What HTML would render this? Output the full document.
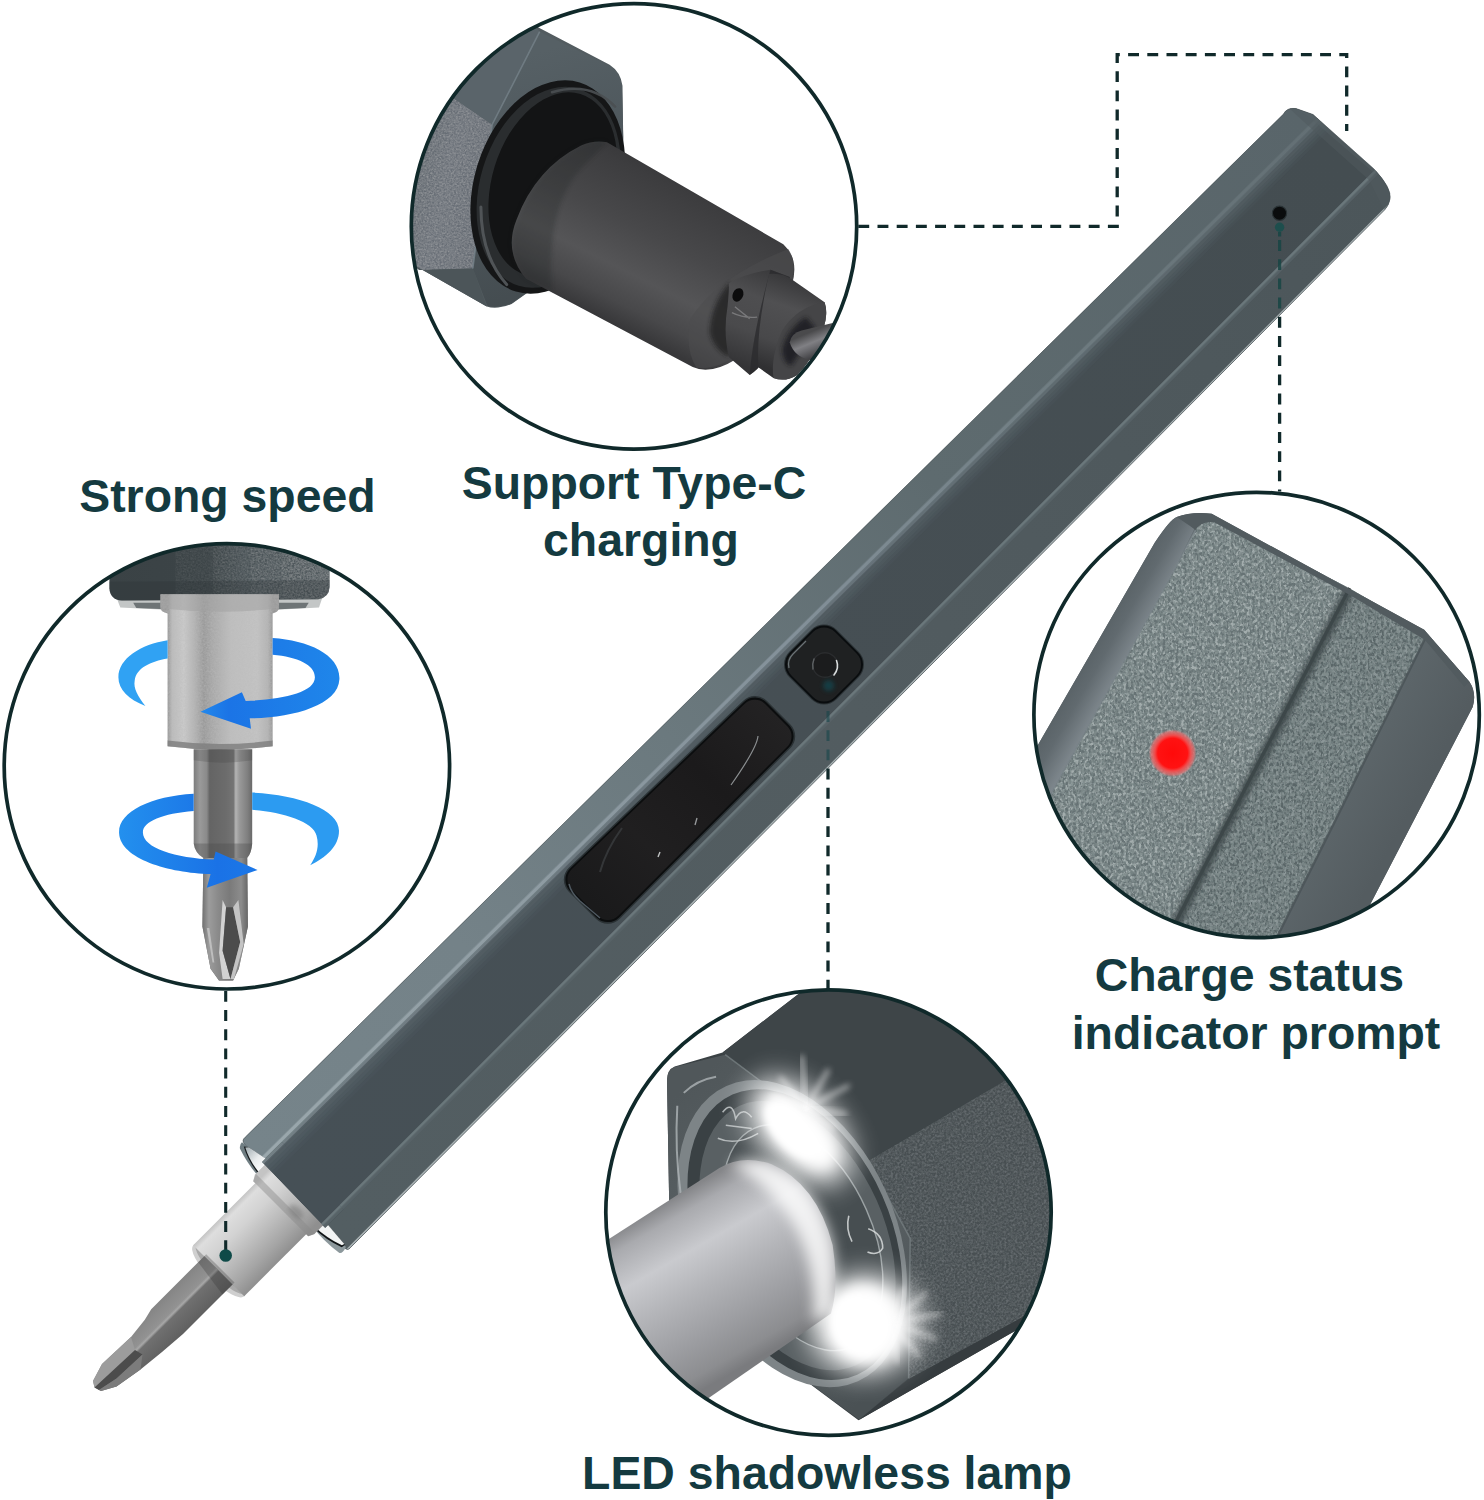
<!DOCTYPE html>
<html lang="en"><head><meta charset="utf-8"><title>Electric screwdriver features</title>
<style>
html,body{margin:0;padding:0;background:#fff;}
body{width:1484px;height:1500px;overflow:hidden;}
svg{display:block;}
text{font-family:"Liberation Sans",sans-serif;font-weight:700;fill:#143a40;}
</style></head><body>
<svg width="1484" height="1500" viewBox="0 0 1484 1500">
<defs>
<clipPath id="bodyclip"><path d="M1283.5,114 Q1286.5,107.5 1296,108.5 L1313,114.5 L1374,169 Q1392,188 1390,199 Q1389,205 1385,209.5 L350.5,1247.5 Q348,1251 344.5,1248 L245,1144.5 Q241,1140.5 245.2,1137.2 Z"/></clipPath>
<linearGradient id="gF1" gradientUnits="userSpaceOnUse" x1="1290" y1="110" x2="240" y2="1140">
<stop offset="0" stop-color="#59656a"/><stop offset="0.35" stop-color="#5e6b6f"/><stop offset="0.6" stop-color="#6b797e"/><stop offset="0.8" stop-color="#748288"/><stop offset="1" stop-color="#76848a"/></linearGradient>
<linearGradient id="gMid" gradientUnits="userSpaceOnUse" x1="1290" y1="110" x2="240" y2="1140">
<stop offset="0" stop-color="#444d51"/><stop offset="0.5" stop-color="#464f54"/><stop offset="1" stop-color="#465056"/></linearGradient>
<linearGradient id="gF3" gradientUnits="userSpaceOnUse" x1="1390" y1="200" x2="345" y2="1250">
<stop offset="0" stop-color="#4c565a"/><stop offset="0.5" stop-color="#525c60"/><stop offset="1" stop-color="#535e62"/></linearGradient>
<linearGradient id="gFall" gradientUnits="userSpaceOnUse" x1="700" y1="724" x2="715" y2="739">
<stop offset="0" stop-color="#5a666b" stop-opacity="0.95"/><stop offset="1" stop-color="#48525a" stop-opacity="0"/></linearGradient>
<linearGradient id="gR1" gradientUnits="userSpaceOnUse" x1="1334" y1="104" x2="243" y2="1178">
<stop offset="0" stop-color="#626e73"/><stop offset="0.25" stop-color="#6f7c81"/><stop offset="0.5" stop-color="#84919a"/><stop offset="1" stop-color="#9ba8ad"/></linearGradient>
<linearGradient id="gBtn" gradientUnits="userSpaceOnUse" x1="770" y1="710" x2="590" y2="900">
<stop offset="0" stop-color="#232223"/><stop offset="0.35" stop-color="#1b1a1b"/><stop offset="0.7" stop-color="#201f20"/><stop offset="1" stop-color="#1a1a1b"/></linearGradient>
<linearGradient id="gCres" gradientUnits="userSpaceOnUse" x1="246" y1="1151" x2="265" y2="1169">
<stop offset="0" stop-color="#aeb8bc"/><stop offset="0.5" stop-color="#e9eced"/><stop offset="1" stop-color="#ffffff"/></linearGradient>
<linearGradient id="gChuck" gradientUnits="userSpaceOnUse" x1="219.2" y1="1219.2" x2="270.2" y2="1270.2">
<stop offset="0" stop-color="#c4c4c4"/><stop offset="0.08" stop-color="#dedede"/><stop offset="0.3" stop-color="#d2d2d2"/>
<stop offset="0.55" stop-color="#bcbcbc"/><stop offset="0.8" stop-color="#a5a5a5"/><stop offset="1" stop-color="#8f8f8f"/></linearGradient>
<filter id="blurS" x="-50%" y="-50%" width="200%" height="200%"><feGaussianBlur stdDeviation="2.2"/></filter>
<clipPath id="endband"><polygon points="258.5,1165.5 282.0,1142.0 343.5,1209.5 320.5,1232.5"/></clipPath>
<linearGradient id="gBit" gradientUnits="userSpaceOnUse" x1="180.2" y1="1280.2" x2="208.5" y2="1308.5">
<stop offset="0" stop-color="#858585"/><stop offset="0.4" stop-color="#929292"/><stop offset="0.46" stop-color="#a8a8a8"/>
<stop offset="0.52" stop-color="#707070"/><stop offset="1" stop-color="#606060"/></linearGradient>
<clipPath id="clip1"><circle cx="634.5" cy="226.4" r="223.2"/></clipPath>
<filter id="grain" x="0" y="0" width="100%" height="100%">
<feTurbulence type="fractalNoise" baseFrequency="0.55" numOctaves="2" seed="4" result="n"/>
<feColorMatrix in="n" type="matrix" values="0 0 0 0 0.5  0 0 0 0 0.5  0 0 0 0 0.5  0.9 0.9 0.9 0 -0.95" result="m"/>
<feComposite in="m" in2="SourceGraphic" operator="in"/></filter>
<linearGradient id="g1side" gradientUnits="userSpaceOnUse" x1="410" y1="162" x2="494" y2="181">
<stop offset="0" stop-color="#5f666d"/><stop offset="0.45" stop-color="#6a7078"/><stop offset="1" stop-color="#646a72"/></linearGradient>
<linearGradient id="g1face" gradientUnits="userSpaceOnUse" x1="497" y1="65" x2="568" y2="291">
<stop offset="0" stop-color="#566065"/><stop offset="0.5" stop-color="#4d565b"/><stop offset="1" stop-color="#444c50"/></linearGradient>
<linearGradient id="g1plug" gradientUnits="userSpaceOnUse" x1="691" y1="168" x2="613" y2="323">
<stop offset="0" stop-color="#353537"/><stop offset="0.15" stop-color="#3d3d3f"/><stop offset="0.45" stop-color="#48484a"/>
<stop offset="0.7" stop-color="#555557"/><stop offset="0.88" stop-color="#48484a"/><stop offset="1" stop-color="#38383a"/></linearGradient>
<linearGradient id="g1neck" gradientUnits="userSpaceOnUse" x1="773" y1="271" x2="736" y2="363">
<stop offset="0" stop-color="#3a3a3c"/><stop offset="0.3" stop-color="#4e4e50"/><stop offset="0.65" stop-color="#4a4a4c"/><stop offset="1" stop-color="#343436"/></linearGradient>
<linearGradient id="g1neck2" gradientUnits="userSpaceOnUse" x1="803" y1="283" x2="773" y2="370">
<stop offset="0" stop-color="#39393b"/><stop offset="0.3" stop-color="#505052"/><stop offset="0.7" stop-color="#48484a"/><stop offset="1" stop-color="#303032"/></linearGradient>
<linearGradient id="g1pin" gradientUnits="userSpaceOnUse" x1="808" y1="333" x2="818" y2="357">
<stop offset="0" stop-color="#4a4a4c"/><stop offset="0.4" stop-color="#808084"/><stop offset="0.6" stop-color="#6a6a6e"/><stop offset="1" stop-color="#3a3a3d"/></linearGradient>
<clipPath id="clip2"><circle cx="226.9" cy="766.3" r="223.2"/></clipPath>
<linearGradient id="g2cap" gradientUnits="userSpaceOnUse" x1="108" y1="561" x2="329" y2="561">
<stop offset="0" stop-color="#3a4245"/><stop offset="0.45" stop-color="#3c4447"/><stop offset="0.62" stop-color="#4b5458"/><stop offset="1" stop-color="#535c60"/></linearGradient>
<linearGradient id="g2chuck" gradientUnits="userSpaceOnUse" x1="168" y1="655" x2="273" y2="655">
<stop offset="0" stop-color="#9a9a9a"/><stop offset="0.04" stop-color="#bcbcbc"/><stop offset="0.15" stop-color="#cbcbcb"/><stop offset="0.25" stop-color="#b4b4b4"/>
<stop offset="0.34" stop-color="#999999"/><stop offset="0.43" stop-color="#a9a9a9"/><stop offset="0.6" stop-color="#bfbfbf"/><stop offset="0.85" stop-color="#c4c4c4"/>
<stop offset="0.95" stop-color="#b4b4b4"/><stop offset="1" stop-color="#969696"/></linearGradient>
<linearGradient id="g2bit" gradientUnits="userSpaceOnUse" x1="194" y1="812" x2="252" y2="812">
<stop offset="0" stop-color="#7e7e7e"/><stop offset="0.1" stop-color="#9a9a9a"/><stop offset="0.22" stop-color="#8a8a8a"/><stop offset="0.27" stop-color="#646464"/><stop offset="0.55" stop-color="#6c6c6c"/>
<stop offset="0.68" stop-color="#747474"/><stop offset="0.72" stop-color="#b4b4b4"/><stop offset="0.78" stop-color="#9a9a9a"/><stop offset="0.92" stop-color="#808080"/><stop offset="1" stop-color="#6a6a6a"/></linearGradient>
<linearGradient id="g2head" gradientUnits="userSpaceOnUse" x1="202" y1="906" x2="248" y2="906">
<stop offset="0" stop-color="#6e6e6e"/><stop offset="0.15" stop-color="#9c9c9c"/><stop offset="0.35" stop-color="#8a8a8a"/><stop offset="0.6" stop-color="#7a7a7a"/><stop offset="0.85" stop-color="#8c8c8c"/><stop offset="1" stop-color="#666666"/></linearGradient>
<linearGradient id="g2a" gradientUnits="userSpaceOnUse" x1="338" y1="677" x2="119" y2="677">
<stop offset="0" stop-color="#1f86ea"/><stop offset="0.5" stop-color="#1b74e6"/><stop offset="0.75" stop-color="#2a9cf0"/><stop offset="1" stop-color="#2e9ff2"/></linearGradient>
<linearGradient id="g2b" gradientUnits="userSpaceOnUse" x1="119" y1="832" x2="338" y2="832">
<stop offset="0" stop-color="#2390ee"/><stop offset="0.45" stop-color="#1a72e6"/><stop offset="0.65" stop-color="#1c78e8"/><stop offset="1" stop-color="#2e9ff2"/></linearGradient>
<clipPath id="clip3"><circle cx="1257" cy="715" r="223.2"/></clipPath>
<filter id="grain3" x="0" y="0" width="100%" height="100%">
<feTurbulence type="fractalNoise" baseFrequency="0.38 0.3" numOctaves="2" seed="11" result="n"/>
<feColorMatrix in="n" type="matrix" values="0 0 0 0 0.74  0 0 0 0 0.80  0 0 0 0 0.79  2.2 2.2 2.2 0 -2.9" result="m"/>
<feComposite in="m" in2="SourceGraphic" operator="in"/></filter>
<filter id="grain3d" x="0" y="0" width="100%" height="100%">
<feTurbulence type="fractalNoise" baseFrequency="0.38 0.3" numOctaves="2" seed="23" result="n"/>
<feColorMatrix in="n" type="matrix" values="0 0 0 0 0.2  0 0 0 0 0.25  0 0 0 0 0.25  2.2 2.2 2.2 0 -2.9" result="m"/>
<feComposite in="m" in2="SourceGraphic" operator="in"/></filter>
<filter id="blurG" x="-20%" y="-20%" width="140%" height="140%"><feGaussianBlur stdDeviation="2.5"/></filter>
<clipPath id="sil3"><path d="M 1154.7,542.7 Q 1170.4,519.2 1176.7,517.0 Q 1192.3,511.3 1211.7,513.8 L 1424.2,629.8 L 1469.6,682.1 Q 1476.8,693.0 1472.7,707.1 L 1327.0,987.6 L 1013.7,987.6 L 1013.7,787.0 Z"/></clipPath>
<linearGradient id="g3l" gradientUnits="userSpaceOnUse" x1="1067" y1="655" x2="1123" y2="687">
<stop offset="0" stop-color="#50595d"/><stop offset="0.5" stop-color="#616a6f"/><stop offset="1" stop-color="#8b949a"/></linearGradient>
<linearGradient id="g3r" gradientUnits="userSpaceOnUse" x1="1380" y1="731" x2="1437" y2="762">
<stop offset="0" stop-color="#5c6569"/><stop offset="1" stop-color="#545c60"/></linearGradient>
<radialGradient id="g3led"><stop offset="0" stop-color="#ff0a0a"/><stop offset="0.62" stop-color="#ff1212"/><stop offset="0.74" stop-color="#f04a4a"/>
<stop offset="0.9" stop-color="#e07070" stop-opacity="0.75"/><stop offset="1" stop-color="#c08080" stop-opacity="0"/></radialGradient>
<clipPath id="clip4"><circle cx="828.5" cy="1212.6" r="223.2"/></clipPath>
<filter id="blur4" x="-30%" y="-30%" width="160%" height="160%"><feGaussianBlur stdDeviation="7"/></filter>
<filter id="blur4s" x="-30%" y="-30%" width="160%" height="160%"><feGaussianBlur stdDeviation="3"/></filter>
<filter id="blur4l" x="-50%" y="-50%" width="200%" height="200%"><feGaussianBlur stdDeviation="14"/></filter>
<filter id="grain4" x="0" y="0" width="100%" height="100%">
<feTurbulence type="fractalNoise" baseFrequency="0.45" numOctaves="2" seed="7" result="n"/>
<feColorMatrix in="n" type="matrix" values="0 0 0 0 0.55  0 0 0 0 0.58  0 0 0 0 0.6  1.4 1.4 1.4 0 -1.7" result="m"/>
<feComposite in="m" in2="SourceGraphic" operator="in"/></filter>
<linearGradient id="g4body" gradientUnits="userSpaceOnUse" x1="784" y1="1067" x2="994" y2="1342">
<stop offset="0" stop-color="#3a4144"/><stop offset="0.5" stop-color="#40474a"/><stop offset="1" stop-color="#3a4043"/></linearGradient>
<linearGradient id="g4plate" gradientUnits="userSpaceOnUse" x1="671" y1="1099" x2="897" y2="1374">
<stop offset="0" stop-color="#50575a"/><stop offset="0.5" stop-color="#5d6467"/><stop offset="1" stop-color="#4a5154"/></linearGradient>
<linearGradient id="g4ch" gradientUnits="userSpaceOnUse" x1="668" y1="1201" x2="758" y2="1358">
<stop offset="0" stop-color="#858689"/><stop offset="0.1" stop-color="#a9aaae"/><stop offset="0.3" stop-color="#c9cace"/><stop offset="0.5" stop-color="#b4b5b9"/>
<stop offset="0.75" stop-color="#9c9da1"/><stop offset="0.92" stop-color="#8c8d90"/><stop offset="1" stop-color="#7a7b7e"/></linearGradient>
</defs>
<rect width="1484" height="1500" fill="#ffffff"/>
<g clip-path="url(#bodyclip)">
<path d="M1283.5,114 Q1286.5,107.5 1296,108.5 L1313,114.5 L1374,169 Q1392,188 1390,199 Q1389,205 1385,209.5 L350.5,1247.5 Q348,1251 344.5,1248 L245,1144.5 Q241,1140.5 245.2,1137.2 Z" fill="url(#gMid)"/>
<polygon points="182.5,1117.5 1265.0,35.0 1333.7,103.7 242.9,1177.9" fill="url(#gF1)"/>
<polygon points="242.9,1177.9 1333.7,103.7 1335.6,105.6 245.1,1180.1" fill="#66747a" opacity="0.55"/>
<polygon points="245.1,1180.1 1335.6,105.6 1337.5,107.5 247.4,1182.4" fill="#66747a" opacity="0.46"/>
<polygon points="247.4,1182.4 1337.5,107.5 1339.4,109.4 249.6,1184.6" fill="#66747a" opacity="0.37"/>
<polygon points="249.6,1184.6 1339.4,109.4 1341.3,111.3 251.9,1186.9" fill="#66747a" opacity="0.28"/>
<polygon points="251.9,1186.9 1341.3,111.3 1343.2,113.2 254.1,1189.1" fill="#66747a" opacity="0.18"/>
<polygon points="254.1,1189.1 1343.2,113.2 1345.1,115.1 256.4,1191.4" fill="#66747a" opacity="0.09"/>
<line x1="243.7" y1="1178.7" x2="1334.5" y2="104.5" stroke="url(#gR1)" stroke-width="7" opacity="0.45"/>
<line x1="242.9" y1="1177.9" x2="1333.7" y2="103.7" stroke="url(#gR1)" stroke-width="3"/>
<polygon points="306.0,1241.0 1388.5,158.5 1465.0,235.0 382.5,1317.5" fill="url(#gF3)"/>
<line x1="306.0" y1="1241.0" x2="1388.5" y2="158.5" stroke="#6a777b" stroke-width="3.2"/>
<line x1="307.6" y1="1242.6" x2="1390.1" y2="160.1" stroke="#59656a" stroke-width="3" opacity="0.8"/>
<line x1="330.9" y1="1265.9" x2="1411.9" y2="181.9" stroke="#aab3b5" stroke-width="1.8"/>
<polygon points="1287,106 1313,112 1378,169 1393,200 1384,210 1369,180 1303,121" fill="#4f595d" opacity="0.5"/>
<polygon points="1289,106 1316,113 1377,168 1373,172 1309,117" fill="#566165" opacity="0.45"/>
</g>
<path d="M1283.5,114 Q1286.5,107.5 1296,108.5 L1313,114.5 L1374,169 Q1392,188 1390,199 Q1389,205 1385,209.5 L350.5,1247.5 Q348,1251 344.5,1248 L245,1144.5 Q241,1140.5 245.2,1137.2 Z" fill="none" stroke="#4a5357" stroke-width="1" opacity="0.6"/>
<circle cx="1279.5" cy="213.2" r="7.1" fill="#0a0c0d" stroke="#2a3336" stroke-width="1.2"/>
<polygon points="580.8,879.8 755.0,713.0 778.2,736.2 607.8,906.7" fill="#2a3134" stroke="#2a3134" stroke-width="34" stroke-linejoin="round" />
<polygon points="581.4,879.8 755.0,713.6 777.6,736.2 607.8,906.1" fill="#0b0d0e" stroke="#0b0d0e" stroke-width="32" stroke-linejoin="round" />
<polygon points="582.0,879.5 754.8,714.3 777.0,736.5 608.0,905.5" fill="url(#gBtn)" stroke="url(#gBtn)" stroke-width="29.0" stroke-linejoin="round" />
<path d="M569,884 Q571,893 580,901 L600,918" stroke="#56626a" stroke-width="1.4" fill="none" opacity="0.9"/>
<path d="M758,736 Q757,748 731,785" stroke="#8b8f91" stroke-width="1.2" fill="none"/>
<path d="M622,828 Q606,850 600,872" stroke="#343638" stroke-width="2" fill="none"/>
<path d="M697,818 L695,825" stroke="#9a9d9f" stroke-width="1.3" fill="none"/>
<path d="M660,852 L658,857" stroke="#c0c3c4" stroke-width="1.4" fill="none"/>
<polygon points="802.0,664.5 824.0,642.5 846.0,664.5 824.0,686.5" fill="#2a3134" stroke="#2a3134" stroke-width="36" stroke-linejoin="round" />
<polygon points="802.0,664.5 824.0,642.5 846.0,664.5 824.0,686.5" fill="#090c0e" stroke="#090c0e" stroke-width="34" stroke-linejoin="round" />
<polygon points="802.4,664.5 824.0,642.9 845.6,664.5 824.0,686.1" fill="#1f2122" stroke="#1f2122" stroke-width="31.0" stroke-linejoin="round" />
<path d="M789,668 Q787,660 793,654 L806,641" stroke="#7d878b" stroke-width="1.3" fill="none" opacity="0.8"/>
<circle cx="825" cy="665" r="12.3" fill="#1b1c1d" stroke="#2a2c2e" stroke-width="1.4"/>
<path d="M836.5,660.5 Q839.5,668 834,675" stroke="#d9dcdd" stroke-width="1.6" fill="none" stroke-linecap="round"/>
<path d="M814,659 Q812,664 813,669" stroke="#5e6264" stroke-width="1.4" fill="none" stroke-linecap="round"/>
<path d="M 241.9,1142.3 Q 239.3,1144.7 240.0,1148.8 Q 248.3,1165.3 258.7,1176.6 L 272.8,1164.3 L 248.3,1146.4 Z" fill="#6f7d82"/>
<path d="M 243.8,1146.6 Q 248.3,1162.5 260.1,1175.8 L 270.9,1162.5 L 248.3,1147.0 Z" fill="#14181a"/>
<path d="M 245.3,1147.5 Q 250.0,1162.6 261.1,1174.7 L 271.4,1162.6 L 248.8,1147.2 Z" fill="url(#gCres)"/>
<path d="M 312.0,1226.1 Q 323.8,1241.7 339.1,1252.8 Q 342.6,1254.0 345.9,1246.9 L 322.8,1218.1 Z" fill="#8c989c"/>
<path d="M 312.9,1227.5 Q 325.7,1239.8 341.7,1247.2 L 345.0,1245.0 L 322.4,1218.6 Z" fill="#101416"/>
<path d="M 314.3,1226.4 Q 326.6,1237.9 341.9,1245.3 L 344.3,1244.1 L 322.4,1218.6 Z" fill="#f2f4f4"/>
<ellipse cx="218.8" cy="1270.8" rx="36.1" ry="11" transform="rotate(45 218.8 1270.8)" fill="#cfcfcf"/>
<ellipse cx="220.2" cy="1269.2" rx="33.6" ry="8.5" transform="rotate(45 220.2 1269.2)" fill="#a9a9a9"/>
<ellipse cx="221.8" cy="1267.8" rx="29.1" ry="6" transform="rotate(45 221.8 1267.8)" fill="#7f7f7f"/>
<polygon points="277.2,1161.2 193.2,1245.2 244.2,1296.2 328.2,1212.2" fill="url(#gChuck)"/>
<polygon points="272.8,1156.8 254.8,1174.8 253.2,1181.2 308.2,1236.2 314.2,1234.2 332.2,1216.2" fill="url(#gChuck)"/>
<polygon points="255.8,1173.8 253.2,1181.2 308.2,1236.2 315.2,1233.2" fill="#8a8a8a" opacity="0.45"/>
<ellipse cx="296" cy="1212" rx="9" ry="5" transform="rotate(45 296 1212)" fill="#6e6e6e" opacity="0.45" filter="url(#blurS)"/>
<g clip-path="url(#endband)"><g clip-path="url(#bodyclip)"><path d="M1283.5,114 Q1286.5,107.5 1296,108.5 L1313,114.5 L1374,169 Q1392,188 1390,199 Q1389,205 1385,209.5 L350.5,1247.5 Q348,1251 344.5,1248 L245,1144.5 Q241,1140.5 245.2,1137.2 Z" fill="url(#gMid)"/><polygon points="182.5,1117.5 1265.0,35.0 1333.7,103.7 242.9,1177.9" fill="url(#gF1)"/><polygon points="242.9,1177.9 1333.7,103.7 1335.6,105.6 245.1,1180.1" fill="#66747a" opacity="0.55"/><polygon points="245.1,1180.1 1335.6,105.6 1337.5,107.5 247.4,1182.4" fill="#66747a" opacity="0.46"/><polygon points="247.4,1182.4 1337.5,107.5 1339.4,109.4 249.6,1184.6" fill="#66747a" opacity="0.37"/><polygon points="249.6,1184.6 1339.4,109.4 1341.3,111.3 251.9,1186.9" fill="#66747a" opacity="0.28"/><polygon points="251.9,1186.9 1341.3,111.3 1343.2,113.2 254.1,1189.1" fill="#66747a" opacity="0.18"/><polygon points="254.1,1189.1 1343.2,113.2 1345.1,115.1 256.4,1191.4" fill="#66747a" opacity="0.09"/><line x1="243.7" y1="1178.7" x2="1334.5" y2="104.5" stroke="url(#gR1)" stroke-width="7" opacity="0.45"/><line x1="242.9" y1="1177.9" x2="1333.7" y2="103.7" stroke="url(#gR1)" stroke-width="3"/><polygon points="306.0,1241.0 1388.5,158.5 1465.0,235.0 382.5,1317.5" fill="url(#gF3)"/><line x1="306.0" y1="1241.0" x2="1388.5" y2="158.5" stroke="#6a777b" stroke-width="3.2"/><line x1="307.6" y1="1242.6" x2="1390.1" y2="160.1" stroke="#59656a" stroke-width="3" opacity="0.8"/><line x1="330.9" y1="1265.9" x2="1411.9" y2="181.9" stroke="#aab3b5" stroke-width="1.8"/><polygon points="1287,106 1313,112 1378,169 1393,200 1384,210 1369,180 1303,121" fill="#4f595d" opacity="0.5"/><polygon points="1289,106 1316,113 1377,168 1373,172 1309,117" fill="#566165" opacity="0.45"/></g></g>
<polygon points="204.2,1256.2 151.2,1309.2 144.8,1319.8 131.0,1337.0 102.0,1364.0 93.0,1381.0 94.5,1387.5 101.0,1391.0 116.5,1386.5 140.5,1369.5 162.0,1352.0 183.0,1334.0 232.5,1284.5" fill="url(#gBit)"/>
<polygon points="131.0,1337.0 102.0,1364.0 93.0,1381.0 94.5,1387.5 107.5,1375.5 135.0,1350.0" fill="#9c9c9c"/>
<polygon points="135.0,1350.0 107.5,1375.5 94.5,1387.5 99.0,1390.0 116.5,1378.5 142.5,1354.5" fill="#4c4c4c"/>
<polygon points="142.5,1354.5 116.5,1378.5 99.0,1390.0 101.0,1391.0 116.5,1386.5 140.5,1369.5" fill="#7c7c7c"/>
<polygon points="206.2,1254.2 198.2,1262.2 222.5,1294.5 234.5,1282.5" fill="#2e2e2e" opacity="0.28"/>
<g clip-path="url(#clip1)">
<path d="M 497.0,-6.5 L 534.2,25.2 L 609.6,64.7 Q 620.6,71.8 622.5,85.7 L 623.2,135.8 L 623.2,232.9 L 539.1,284.6 L 511.6,304.0 Q 497.0,309.9 486.7,306.6 L 400.0,257.1 L 400.0,-6.5 Z" fill="#535c60"/>
<path d="M 400.0,80.9 L 451.8,97.0 L 492.2,124.5 L 480.9,207.0 L 472.8,268.5 L 419.4,270.1 L 400.0,258.8 Z" fill="url(#g1side)"/>
<path d="M 400.0,80.9 L 451.8,97.0 L 492.2,124.5 L 480.9,207.0 L 472.8,268.5 L 419.4,270.1 L 400.0,258.8 Z" fill="#8a9498" filter="url(#grain)" opacity="0.5"/>
<path d="M 497.0,-6.5 L 534.2,25.2 L 539.7,31.7 L 492.2,124.5 L 451.8,97.0 L 400.0,80.9 L 400.0,-6.5 Z" fill="#5a646a"/>
<path d="M 472.8,268.5 L 486.7,306.6 L 400.0,257.1 L 400.0,252.3 L 419.4,270.1 Z" fill="#4c5559"/>
<path d="M 539.7,31.7 L 609.6,66.3 Q 619.9,72.8 621.9,87.3 L 623.2,135.8 L 623.2,232.9 L 539.1,284.0 L 511.6,303.4 Q 497.0,308.9 487.3,305.7 L 472.8,268.5 L 480.9,207.0 L 492.2,124.5 Z" fill="url(#g1face)"/>
<path d="M 539.7,31.7 L 492.2,124.5 L 480.9,207.0 L 472.8,268.5" fill="none" stroke="#76828a" stroke-width="1.6" opacity="0.8"/>
<ellipse cx="547.8" cy="187.0" rx="73.7" ry="109.3" transform="rotate(17 547.8 187.0)" fill="#151617"/>
<ellipse cx="548.8" cy="187.0" rx="68.6" ry="102.9" transform="rotate(17 547.8 187.0)" fill="#2a2d2f"/>
<path d="M 480.9,207.0 Q 480.9,255.5 506.7,284.6" fill="none" stroke="#54595c" stroke-width="3" stroke-linecap="round" opacity="0.9"/>
<path d="M 552.0,92.2 Q 590.8,80.9 615.1,106.7" fill="none" stroke="#4a4f52" stroke-width="2.5" stroke-linecap="round" opacity="0.9"/>
<ellipse cx="551.8" cy="183.0" rx="60.8" ry="94.4" transform="rotate(17 547.8 187.0)" fill="#131415"/>
<path d="M 607.0,142.3 L 783.3,244.2 Q 799.5,258.8 792.0,284.6 Q 780.0,326.7 736.4,359.0 Q 710.5,375.2 692.7,367.1 L 526.1,278.8 Q 503.5,252.3 516.4,219.9 Q 535.8,168.2 581.1,145.6 Q 594.1,139.7 607.0,142.3 Z" fill="url(#g1plug)"/>
<path d="M 526.1,278.8 Q 503.5,252.3 516.4,219.9 Q 535.8,168.2 581.1,145.6 Q 594.1,139.7 607.0,142.3 L 581.1,168.2 Q 545.6,207.0 552.0,291.1 Z" fill="#1e2021" opacity="0.25" filter="url(#blurS)"/>
<path d="M 788.3,248.9 Q 797.2,262.3 791.2,280.1 Q 773.4,327.5 729.0,360.1 Q 711.2,370.5 696.3,367.5 Q 684.5,348.3 690.4,318.6 Q 717.1,277.1 788.3,248.9 Z" fill="#4c4c4e" opacity="0.55"/>
<path d="M 729.0,283.0 Q 709.7,306.7 709.7,333.4 Q 714.1,349.7 729.0,357.2 Q 734.9,333.4 743.8,303.8 Z" fill="#1d1d1f" opacity="0.7" filter="url(#blurS)"/>
<path d="M 729.0,283.0 Q 743.8,274.1 770.5,269.7 L 789.7,277.1 Q 788.3,312.7 770.5,349.7 Q 761.6,367.5 749.7,374.9 L 729.0,357.2 Q 723.0,333.4 727.5,306.7 Q 729.0,291.9 729.0,283.0 Z" fill="url(#g1neck)"/>
<path d="M 770.5,269.7 L 789.7,277.1 Q 788.3,312.7 770.5,349.7 Q 761.6,367.5 749.7,374.9 Q 752.7,333.4 770.5,269.7 Z" fill="#2a2a2c" opacity="0.75"/>
<ellipse cx="737.9" cy="294.9" rx="5.2" ry="7" transform="rotate(25 737.9 294.9)" fill="#0c0c0d"/>
<path d="M 731.9,312.7 Q 743.8,318.6 757.1,317.1 M 734.9,306.7 Q 742.3,312.7 749.7,318.6" fill="none" stroke="#8b8b8d" stroke-width="1.4" opacity="0.7"/>
<path d="M 769.0,274.1 Q 782.3,272.6 792.7,280.1 L 824.6,302.3 Q 828.3,312.7 823.8,327.5 Q 815.0,357.2 797.2,374.9 Q 785.3,382.4 773.4,377.9 L 758.6,367.5 Q 755.6,333.4 769.0,274.1 Z" fill="url(#g1neck2)"/>
<path d="M 824.6,302.3 Q 828.3,312.7 823.8,327.5 Q 815.0,357.2 797.2,374.9 Q 785.3,382.4 773.4,377.9 Q 770.5,355.7 782.3,330.5 Q 797.2,306.7 824.6,302.3 Z" fill="#454547"/>
<path d="M 806.1,317.1 Q 788.3,327.5 782.3,348.3 Q 782.3,363.1 791.2,366.0 Q 803.1,348.3 815.0,327.5 Z" fill="#1f1f21" opacity="0.85" filter="url(#blurS)"/>
<path d="M 789.7,342.3 Q 791.2,333.4 801.6,330.5 L 832.7,323.0 L 847.6,348.3 L 810.5,360.1 Q 794.2,357.2 789.7,342.3 Z" fill="url(#g1pin)"/>
</g>
<g clip-path="url(#clip2)">
<path d="M 115.3,594.6 L 323.4,594.6 L 319.0,607.4 Q 219.3,614.0 120.3,607.4 Z" fill="#c3c6c6"/>
<path d="M 133.2,602.7 L 308.7,602.7 L 305.5,608.0 Q 219.3,612.7 136.3,608.0 Z" fill="#6e7476"/>
<path d="M 109.4,517.5 L 329.6,517.5 L 329.6,587.0 Q 329.0,597.7 318.1,599.3 L 121.9,600.5 Q 110.0,599.9 109.4,588.3 Z" fill="url(#g2cap)"/>
<path d="M 175.5,517.5 L 329.6,517.5 L 329.6,587.0 Q 329.0,597.7 318.1,599.3 L 175.5,599.9 Z" fill="#a3adb1" filter="url(#grain)" opacity="0.14"/>
<path d="M 213.1,517.5 L 329.6,517.5 L 329.6,587.0 Q 329.0,597.7 318.1,599.3 L 213.1,599.9 Z" fill="#a3adb1" filter="url(#grain)" opacity="0.16"/>
<path d="M 250.7,517.5 L 329.6,517.5 L 329.6,587.0 Q 329.0,597.7 318.1,599.3 L 250.7,599.9 Z" fill="#a3adb1" filter="url(#grain)" opacity="0.18"/>
<path d="M 282.0,517.5 L 329.6,517.5 L 329.6,587.0 Q 329.0,597.7 318.1,599.3 L 282.0,599.9 Z" fill="#a3adb1" filter="url(#grain)" opacity="0.16"/>
<path d="M 109.4,581.7 L 329.6,580.1 L 329.6,587.0 Q 329.0,597.7 318.1,599.3 L 121.9,600.5 Q 110.0,599.9 109.4,588.3 Z" fill="#2c3336" opacity="0.3"/>
<path d="M 160.4,594.2 L 278.9,594.2 L 278.9,608.3 Q 278.3,612.1 272.6,613.4 L 272.6,746.2 Q 219.3,753.1 167.6,746.2 L 167.6,613.4 Q 161.1,612.1 160.4,608.3 Z" fill="url(#g2chuck)"/>
<path d="M 160.4,594.2 L 278.9,594.2 L 278.9,608.3 Q 278.3,612.1 272.6,613.4 L 272.6,746.2 Q 219.3,753.1 167.6,746.2 L 167.6,613.4 Q 161.1,612.1 160.4,608.3 Z" fill="#ffffff" filter="url(#grain)" opacity="0.5"/>
<path d="M 160.4,594.2 L 278.9,594.2 L 278.9,608.3 Q 219.3,615.2 160.4,608.3 Z" fill="#a2a2a2" opacity="0.55"/>
<path d="M 167.6,740.6 Q 219.3,747.5 272.6,740.6 L 272.6,746.2 Q 219.3,753.1 167.6,746.2 Z" fill="#7d7d7d" opacity="0.8"/>
<path d="M 193.7,749.3 L 252.2,749.3 L 252.2,843.4 Q 251.6,852.8 247.2,858.1 L 247.9,926.4 L 238.8,968.7 L 233.1,980.6 L 219.0,980.6 L 210.6,968.7 L 202.4,926.4 L 203.4,858.1 Q 194.9,852.8 193.7,843.4 Z" fill="url(#g2bit)"/>
<path d="M 193.7,749.3 L 252.2,749.3 L 252.2,760.3 Q 222.5,765.0 193.7,760.3 Z" fill="#3c3c3c" opacity="0.22"/>
<path d="M 203.4,858.1 L 247.2,858.1 L 247.9,926.4 L 238.8,968.7 L 233.1,980.6 L 219.0,980.6 L 210.6,968.7 L 202.4,926.4 Z" fill="url(#g2head)"/>
<path d="M 193.7,843.4 Q 194.9,852.8 203.4,858.1 L 247.2,858.1 Q 251.6,852.8 252.2,843.4 Z" fill="#4a4a4a" opacity="0.35"/>
<path d="M 222.6,900.1 L 226.1,907.3 L 222.6,950.8 L 230.5,979.0 L 222.6,979.0 L 219.1,952.7 Z" fill="#d2d2d2"/>
<path d="M 226.1,907.3 L 233.1,907.3 L 240.2,942.1 L 230.5,979.0 L 222.6,950.8 Z" fill="#4c4c4c"/>
<path d="M 233.1,907.3 L 238.4,900.1 L 243.7,943.9 L 234.0,979.0 L 230.5,979.0 L 240.2,942.1 Z" fill="#c4c4c4"/>
<path d="M 206.8,928.0 L 209.3,928.0 L 214.3,962.4 L 212.5,962.4 Z" fill="#c8c8c8" opacity="0.8"/>
<path d="M 272.6,638.1 C 308.7,640.3 340.6,655.3 339.4,679.2 C 338.4,705.5 291.4,718.0 249.7,718.3 L 251.0,728.7 L 200.5,711.7 L 241.9,692.3 L 245.7,701.1 C 282.0,699.2 314.9,692.9 314.9,677.3 C 314.9,664.7 297.7,656.9 272.6,654.7 Z" fill="url(#g2a)"/>
<path d="M 167.6,640.3 C 141.0,644.4 118.4,658.5 118.4,677.3 C 118.4,689.8 128.5,699.2 145.4,706.1 C 137.9,696.1 133.2,688.2 134.7,680.4 C 136.3,667.9 150.4,661.6 167.6,658.5 Z" fill="#30a2f3"/>
<path d="M 193.7,793.8 C 150.4,796.3 117.8,812.0 119.1,833.3 C 120.3,859.0 169.2,873.1 210.6,874.1 L 206.8,887.8 L 257.6,870.0 L 215.6,851.5 L 213.7,859.6 C 175.5,857.8 142.9,848.1 142.9,832.4 C 142.9,821.4 162.9,813.6 193.7,811.1 Z" fill="url(#g2b)"/>
<path d="M 252.2,792.6 C 297.7,794.8 339.0,808.9 339.0,830.8 C 339.0,846.5 325.9,857.5 310.2,865.3 C 316.5,855.9 319.6,846.5 316.5,835.5 C 313.4,821.4 282.0,812.0 252.2,809.8 Z" fill="#2c9bf1"/>
</g>
<g clip-path="url(#clip3)">
<path d="M 1154.7,542.7 Q 1170.4,519.2 1176.7,517.0 Q 1192.3,511.3 1211.7,513.8 L 1424.2,629.8 L 1469.6,682.1 Q 1476.8,693.0 1472.7,707.1 L 1327.0,987.6 L 1013.7,987.6 L 1013.7,787.0 Z" fill="#596266"/>
<path d="M 1154.7,542.7 Q 1170.4,519.2 1176.7,517.0 L 1195.4,527.0 L 1173.5,570.9 L 1051.3,793.3 L 1013.7,856.0 L 1013.7,787.0 Z" fill="url(#g3l)"/>
<path d="M 1195.4,530.1 Q 1200.1,519.2 1214.2,518.2 L 1349.0,588.1 L 1173.5,924.9 L 1139.1,993.8 L 1013.7,993.8 L 1013.7,856.0 L 1051.3,793.3 L 1173.5,570.9 Z" fill="#667274"/>
<path d="M 1195.4,530.1 Q 1200.1,519.2 1214.2,518.2 L 1349.0,588.1 L 1173.5,924.9 L 1139.1,993.8 L 1013.7,993.8 L 1013.7,856.0 L 1051.3,793.3 L 1173.5,570.9 Z" fill="#fff" filter="url(#grain3)" opacity="0.5"/>
<path d="M 1195.4,530.1 Q 1200.1,519.2 1214.2,518.2 L 1349.0,588.1 L 1173.5,924.9 L 1139.1,993.8 L 1013.7,993.8 L 1013.7,856.0 L 1051.3,793.3 L 1173.5,570.9 Z" fill="#000" filter="url(#grain3d)" opacity="0.75"/>
<path d="M 1349.0,588.1 L 1427.3,634.1 L 1333.3,824.6 L 1261.2,968.8 L 1151.6,968.8 L 1173.5,924.9 Z" fill="#5a6668"/>
<path d="M 1349.0,588.1 L 1427.3,634.1 L 1333.3,824.6 L 1261.2,968.8 L 1151.6,968.8 L 1173.5,924.9 Z" fill="#fff" filter="url(#grain3)" opacity="0.38"/>
<path d="M 1349.0,588.1 L 1427.3,634.1 L 1333.3,824.6 L 1261.2,968.8 L 1151.6,968.8 L 1173.5,924.9 Z" fill="#000" filter="url(#grain3d)" opacity="0.75"/>
<path d="M 1350.5,588.1 L 1175.1,924.9 L 1153.2,968.8" fill="none" stroke="#3c4648" stroke-width="10" filter="url(#blurG)" opacity="0.85" clip-path="url(#sil3)"/>
<path d="M 1349.6,588.1 L 1174.1,924.9 L 1152.2,968.8" fill="none" stroke="#3d4749" stroke-width="3.2"/>
<path d="M 1427.3,634.1 L 1469.6,682.1 Q 1476.8,693.0 1472.7,707.1 L 1327.0,987.6 L 1261.2,968.8 L 1333.3,824.6 Z" fill="url(#g3r)"/>
<path d="M 1427.3,634.1 L 1333.3,824.6 L 1261.2,968.8" fill="none" stroke="#4a5256" stroke-width="2.4" opacity="0.8"/>
<path d="M 1176.7,517.0 Q 1192.3,511.3 1211.7,513.8 L 1424.2,629.8 L 1469.6,682.1 L 1464.3,686.8 L 1424.8,639.8 L 1349.0,594.4 L 1214.2,522.3 Q 1201.7,520.7 1195.4,530.1 L 1190.8,526.4 Z" fill="#525b5f"/>
<path d="M 1195.4,530.1 L 1173.5,570.9 L 1051.3,793.3 L 1013.7,856.0" fill="none" stroke="#7a858a" stroke-width="2" opacity="0.7"/>
<circle cx="1172.6" cy="753.2" r="24" fill="url(#g3led)"/>
</g>
<g clip-path="url(#clip4)">
<path d="M 838.1,963.5 L 722.6,1052.5 L 674.7,1066.4 Q 667.0,1069.6 667.0,1080.0 L 669.2,1202.9 L 771.1,1354.9 L 858.5,1420.2 L 1075.2,1296.7 L 1075.2,963.5 Z" fill="url(#g4body)"/>
<path d="M 868.2,1160.8 L 1016.9,1073.5 L 1075.2,1164.1 L 1075.2,1288.6 L 908.6,1379.2 L 910.2,1238.5 Z" fill="#484f52"/>
<path d="M 868.2,1160.8 L 1016.9,1073.5 L 1075.2,1164.1 L 1075.2,1288.6 L 908.6,1379.2 L 910.2,1238.5 Z" fill="#fff" filter="url(#grain4)" opacity="0.22"/>
<path d="M 908.6,1379.2 L 1075.2,1288.6 L 1075.2,1296.7 L 858.5,1420.2 Z" fill="#363c3f"/>
<path d="M 838.1,963.5 L 722.6,1052.5 L 868.2,1160.8 L 1016.9,1073.5 L 945.8,963.5 Z" fill="#3e4548"/>
<path d="M 674.7,1067.0 L 725.2,1054.7 L 868.2,1161.5 L 910.2,1238.5 L 908.6,1378.2 L 859.1,1419.6 L 771.1,1354.9 L 669.2,1202.9 L 667.0,1080.0 Q 667.6,1069.6 674.7,1067.0 Z" fill="url(#g4plate)"/>
<path d="M 725.2,1054.7 L 868.2,1161.5 L 910.2,1238.5 L 908.6,1378.2" fill="none" stroke="#767e81" stroke-width="1.5" opacity="0.8"/>
<ellipse cx="792.2" cy="1233.6" rx="102.9" ry="161.7" transform="rotate(-24 792.2 1233.6)" fill="#7d8487"/>
<ellipse cx="794.2" cy="1235.6" rx="95.7" ry="153.3" transform="rotate(-24 792.2 1233.6)" fill="#3a4144"/>
<ellipse cx="796.2" cy="1237.6" rx="86.7" ry="142.3" transform="rotate(-24 792.2 1233.6)" fill="#596063"/>
<ellipse cx="800.2" cy="1241.6" rx="69.5" ry="119.7" transform="rotate(-24 792.2 1233.6)" fill="#474e51"/>
<ellipse cx="800.2" cy="1241.6" rx="69.5" ry="119.7" transform="rotate(-24 792.2 1233.6)" fill="none" stroke="#9aa1a3" stroke-width="1.4"/>
<path d="M 722.6,1112.3 Q 732.3,1099.4 735.6,1118.8 Q 742.0,1105.8 751.7,1117.2 M 717.8,1138.2 Q 735.6,1146.3 758.2,1133.3 M 725.8,1125.3 L 751.7,1128.5" fill="none" stroke="#c3c8c9" stroke-width="1.5" opacity="0.85"/>
<path d="M 677.3,1105.8 Q 674.7,1151.1 680.6,1193.2 M 683.8,1092.9 Q 696.7,1080.0 716.1,1076.7" fill="none" stroke="#aeb4b6" stroke-width="2" opacity="0.8"/>
<path d="M 868.2,1228.8 Q 882.7,1233.6 882.7,1248.2 Q 877.9,1256.3 867.5,1252.0 M 848.8,1215.8 Q 845.5,1228.8 852.0,1241.7" fill="none" stroke="#d8dcdc" stroke-width="1.6" opacity="0.85"/>
<ellipse cx="799.6" cy="1131.1" rx="64" ry="38" transform="rotate(47 799.6 1131.1)" fill="#ffffff" filter="url(#blur4l)" opacity="0.9"/>
<ellipse cx="864.9" cy="1324.2" rx="56" ry="50" fill="#ffffff" filter="url(#blur4l)" opacity="0.9"/>
<path d="M 577.1,1259.5 L 719.4,1167.9 Q 742.0,1154.4 771.1,1164.1 Q 816.4,1183.5 832.6,1244.9 Q 839.1,1287.0 831.0,1313.5 L 687.0,1413.1 L 577.1,1455.2 Z" fill="url(#g4ch)"/>
<path d="M 729.1,1164.1 Q 751.7,1156.0 771.1,1164.1 Q 816.4,1183.5 832.6,1244.9 Q 839.1,1287.0 831.0,1313.5 L 813.2,1325.8 Q 816.4,1261.1 790.5,1219.1 Q 764.7,1180.2 729.1,1164.1 Z" fill="#ffffff" filter="url(#blur4)" opacity="0.8"/>
<ellipse cx="799.6" cy="1131.1" rx="46" ry="22" transform="rotate(47 799.6 1131.1)" fill="#ffffff" filter="url(#blur4)"/>
<ellipse cx="793.6" cy="1137.1" rx="34" ry="16" transform="rotate(47 799.6 1131.1)" fill="#ffffff" filter="url(#blur4s)"/>
<ellipse cx="864.9" cy="1324.2" rx="36" ry="40" transform="rotate(-20 864.9 1324.2)" fill="#ffffff" filter="url(#blur4)"/>
<ellipse cx="856.9" cy="1322.2" rx="24" ry="30" transform="rotate(-20 864.9 1324.2)" fill="#ffffff" filter="url(#blur4s)"/>
<line x1="806.1" y1="1108.4" x2="801.5" y2="1056.6" stroke="#ffffff" stroke-width="3.2" stroke-linecap="round" filter="url(#blur4s)" opacity="0.75"/>
<line x1="806.1" y1="1108.4" x2="828.1" y2="1070.3" stroke="#ffffff" stroke-width="3.2" stroke-linecap="round" filter="url(#blur4s)" opacity="0.75"/>
<line x1="806.1" y1="1108.4" x2="848.4" y2="1085.9" stroke="#ffffff" stroke-width="3.2" stroke-linecap="round" filter="url(#blur4s)" opacity="0.75"/>
<line x1="806.1" y1="1108.4" x2="845.7" y2="1114.0" stroke="#ffffff" stroke-width="3.2" stroke-linecap="round" filter="url(#blur4s)" opacity="0.75"/>
<line x1="806.1" y1="1108.4" x2="780.4" y2="1077.8" stroke="#ffffff" stroke-width="3.2" stroke-linecap="round" filter="url(#blur4s)" opacity="0.75"/>
<line x1="806.1" y1="1108.4" x2="772.2" y2="1096.1" stroke="#ffffff" stroke-width="3.2" stroke-linecap="round" filter="url(#blur4s)" opacity="0.75"/>
<line x1="806.1" y1="1108.4" x2="833.9" y2="1127.9" stroke="#ffffff" stroke-width="3.2" stroke-linecap="round" filter="url(#blur4s)" opacity="0.75"/>
<line x1="890.8" y1="1322.6" x2="926.0" y2="1293.0" stroke="#ffffff" stroke-width="3.2" stroke-linecap="round" filter="url(#blur4s)" opacity="0.7"/>
<line x1="890.8" y1="1322.6" x2="940.0" y2="1313.9" stroke="#ffffff" stroke-width="3.2" stroke-linecap="round" filter="url(#blur4s)" opacity="0.7"/>
<line x1="890.8" y1="1322.6" x2="935.9" y2="1339.0" stroke="#ffffff" stroke-width="3.2" stroke-linecap="round" filter="url(#blur4s)" opacity="0.7"/>
<line x1="890.8" y1="1322.6" x2="919.1" y2="1356.3" stroke="#ffffff" stroke-width="3.2" stroke-linecap="round" filter="url(#blur4s)" opacity="0.7"/>
<line x1="890.8" y1="1322.6" x2="897.8" y2="1361.9" stroke="#ffffff" stroke-width="3.2" stroke-linecap="round" filter="url(#blur4s)" opacity="0.7"/>
<line x1="890.8" y1="1322.6" x2="903.1" y2="1288.7" stroke="#ffffff" stroke-width="3.2" stroke-linecap="round" filter="url(#blur4s)" opacity="0.7"/>
</g>
<circle cx="634.0" cy="226.4" r="222.7" fill="none" stroke="#10292a" stroke-width="3.7"/>
<circle cx="226.9" cy="766.3" r="222.7" fill="none" stroke="#10292a" stroke-width="3.7"/>
<circle cx="1256.6" cy="715.0" r="222.7" fill="none" stroke="#10292a" stroke-width="3.7"/>
<circle cx="828.5" cy="1212.6" r="222.7" fill="none" stroke="#10292a" stroke-width="3.7"/>
<path d="M858.3,226.4 H1117.2 V54.6 H1346.7 V131" fill="none" stroke="#10292a" stroke-width="3.3" stroke-dasharray="10.9 8.3"/>
<circle cx="1279.6" cy="227.2" r="4.7" fill="#1a4f4c" opacity="0.9"/>
<path d="M1279.6,232 V316" fill="none" stroke="#174544" stroke-width="3.2" stroke-dasharray="4.4 3.6 10.9 8.3 10.9 8.3 10.9 8.3 10.9 8.3" opacity="0.85"/>
<path d="M1279.6,316.8 V491.5" fill="none" stroke="#10292a" stroke-width="3.3" stroke-dasharray="10.9 8.3"/>
<circle cx="828.6" cy="685.6" r="5.5" fill="#0f5560" opacity="0.55" filter="url(#blurS)"/>
<path d="M828,711 V767" fill="none" stroke="#16444a" stroke-width="3" stroke-dasharray="10.9 8.3" opacity="0.6"/>
<path d="M828,768.6 V989.5" fill="none" stroke="#10292a" stroke-width="3.3" stroke-dasharray="10.9 8.3"/>
<path d="M225.7,990.9 V1252" fill="none" stroke="#10292a" stroke-width="3.1" stroke-dasharray="10.9 8.28"/>
<circle cx="225.7" cy="1255.5" r="6.3" fill="#0f4a48"/>
<text x="227.4" y="512.3" font-size="46.4" text-anchor="middle">Strong speed</text>
<text x="634" y="498.8" font-size="46.4" text-anchor="middle">Support Type-C</text>
<text x="641" y="556.3" font-size="46.4" text-anchor="middle">charging</text>
<text x="1249.4" y="991.4" font-size="46.4" text-anchor="middle">Charge status</text>
<text x="1256" y="1049.4" font-size="46.4" text-anchor="middle">indicator prompt</text>
<text x="827" y="1488.6" font-size="46.4" text-anchor="middle">LED shadowless lamp</text>
</svg>
</body></html>
